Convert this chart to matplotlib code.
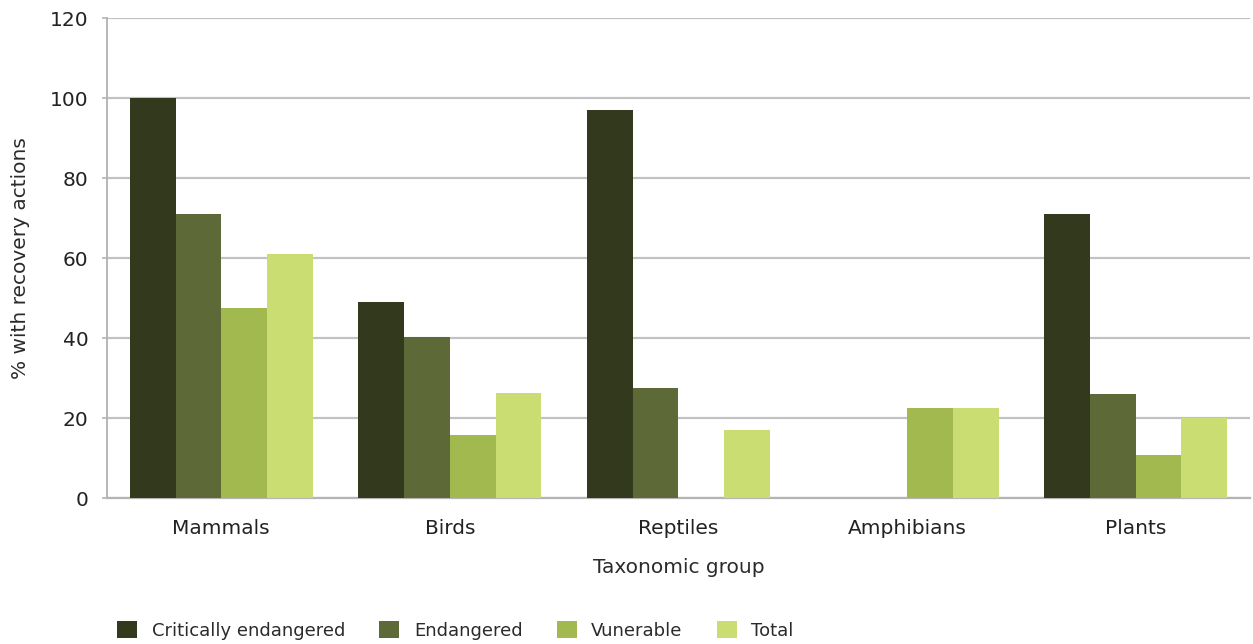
import numpy as np
import matplotlib.pyplot as plt

# Percentage of listed species with recovery actions, by taxonomic group
groups = ['Mammals', 'Birds', 'Reptiles', 'Amphibians', 'Plants']
critically_endangered = [100, 49, 97, 0, 71.2]
endangered = [71, 40.4, 27.6, 0, 26.1]
vulnerable = [47.6, 15.8, 0, 22.6, 10.8]
total = [61.2, 26.4, 17.2, 22.5, 20]

series = [
    ('Critically endangered', critically_endangered, '#33391d'),
    ('Endangered', endangered, '#5d6a37'),
    ('Vunerable', vulnerable, '#a2b94f'),
    ('Total', total, '#cadd73'),
]

plt.rcParams['font.family'] = 'DejaVu Sans'

fig = plt.figure(figsize=(12.53, 6.44), dpi=100)
ax = fig.add_axes([0.0854, 0.2262, 0.9122, 0.7454])

x = np.arange(len(groups))
width = 0.2
for i, (name, vals, color) in enumerate(series):
    ax.bar(x + (i - 1.5) * width, vals, width, color=color, label=name, zorder=3)

ax.set_xlim(-0.5, len(groups) - 0.5)
ax.set_ylim(0, 120)
ax.set_yticks(range(0, 121, 20))
ax.set_xticks(x)
ax.set_xticklabels(groups)

ax.grid(axis='y', color='#c2c2c2', linewidth=1.6, zorder=0)
for side in ['top', 'right']:
    ax.spines[side].set_visible(False)
ax.spines['left'].set_color('#b5b5b5')
ax.spines['left'].set_linewidth(1.4)
ax.spines['bottom'].set_color('#b5b5b5')
ax.spines['bottom'].set_linewidth(1.6)

ax.tick_params(axis='y', length=3.5, width=1.2, color='#b5b5b5', pad=10,
               labelsize=14.5, labelcolor='#222222')
ax.tick_params(axis='x', length=0, pad=15, labelsize=14.5, labelcolor='#222222')

ax.set_ylabel('% with recovery actions', fontsize=14.5, color='#2b2b2b', labelpad=14)
ax.set_xlabel('Taxonomic group', fontsize=14.5, color='#2b2b2b', labelpad=14)

fig.legend(loc='center left', bbox_to_anchor=(0.088, 0.021), ncol=4, frameon=False,
           fontsize=13, handlelength=1.1, handleheight=1.1, handletextpad=0.8,
           columnspacing=1.9, borderaxespad=0, labelcolor='#2b2b2b')

fig.savefig('out.png', dpi=100, facecolor='white')
